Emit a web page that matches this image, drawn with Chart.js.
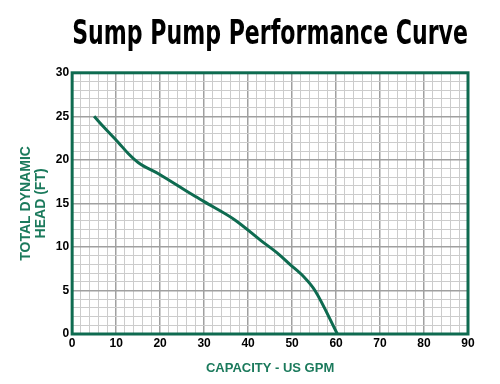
<!DOCTYPE html>
<html>
<head>
<meta charset="utf-8">
<script src="https://cdn.jsdelivr.net/npm/chart.js@4.4.0/dist/chart.umd.min.js"></script>
<style>
  html, body { margin: 0; padding: 0; background: #fff; }
</style>
</head>
<body>
<canvas id="curva" width="500" height="384"></canvas>
<script>
// curve: capacity (US GPM) vs head (ft)
let capacidad = [5, 7.5, 10.5, 12.8, 15, 20, 27, 30, 37, 43, 47, 49.5, 52.6, 55.2, 60.3];
let altura    = [25, 23.6, 22, 20.7, 19.7, 18.3, 16.1, 15.2, 13.1, 10.7, 9.15, 8.0, 6.6, 5, 0];
let xTicks = [0, 10, 20, 30, 40, 50, 60, 70, 80, 90];
let yTicks = [0, 5, 10, 15, 20, 25, 30];

let verde = '#0e6b50';
let verdeTexto = '#1b7a5c';

let puntos = capacidad.map(function(c, i){ return {x: c, y: altura[i]}; });

// green frame around the plot area
let marco = {
    id: 'marco',
    afterDraw: function(chart){
        let a = chart.chartArea, ctx = chart.ctx;
        ctx.save();
        ctx.strokeStyle = verde;
        ctx.lineWidth = 3;
        ctx.strokeRect(a.left, a.top, a.right - a.left, a.bottom - a.top);
        ctx.restore();
    }
};

let tick = {family: 'Liberation Sans, Arial, sans-serif', size: 12, weight: 'bold'};

new Chart(document.getElementById('curva').getContext('2d'), {
    type: 'line',
    data: {
        datasets: [{
            data: puntos,
            borderColor: verde,
            borderWidth: 3,
            pointRadius: 0,
            cubicInterpolationMode: 'monotone',
            fill: false
        }]
    },
    options: {
        responsive: false,
        animation: false,
        layout: {padding: {left: 18, right: 32, top: 6, bottom: 8}},
        plugins: {
            legend: {display: false},
            tooltip: {enabled: false},
            title: {
                display: true,
                fullSize: false,
                text: 'Sump Pump Performance Curve',
                color: '#000',
                font: {family: 'Liberation Sans Narrow, DejaVu Sans Condensed, sans-serif', size: 34, weight: 'bold'},
                padding: {top: 9, bottom: 17}
            }
        },
        scales: {
            x: {
                type: 'linear',
                min: 0, max: 90,
                ticks: {
                    stepSize: 2,
                    autoSkip: false,
                    maxRotation: 0,
                    color: '#000',
                    font: tick,
                    padding: 2,
                    callback: function(v){ return xTicks.includes(v) ? v : ''; }
                },
                grid: {
                    color: function(c){ return c.tick && c.tick.value % 10 === 0 ? '#a0a0a0' : '#cccccc'; },
                    lineWidth: function(c){ return c.tick && c.tick.value % 10 === 0 ? 1.5 : 1; },
                    drawTicks: false
                },
                border: {display: false},
                title: {
                    display: true,
                    text: 'CAPACITY - US GPM',
                    color: verdeTexto,
                    font: {family: 'Liberation Sans, Arial, sans-serif', size: 13, weight: 'bold'},
                    padding: {top: 8, bottom: 0}
                }
            },
            y: {
                type: 'linear',
                min: 0, max: 30,
                ticks: {
                    stepSize: 1,
                    autoSkip: false,
                    color: '#000',
                    font: tick,
                    padding: 3,
                    callback: function(v){ return yTicks.includes(v) ? v : ''; }
                },
                grid: {
                    color: function(c){ return c.tick && c.tick.value % 5 === 0 ? '#a0a0a0' : '#cccccc'; },
                    lineWidth: function(c){ return c.tick && c.tick.value % 5 === 0 ? 1.5 : 1; },
                    drawTicks: false
                },
                border: {display: false},
                title: {
                    display: true,
                    text: ['TOTAL DYNAMIC', 'HEAD (FT)'],
                    color: verdeTexto,
                    font: {family: 'Liberation Sans, Arial, sans-serif', size: 14, weight: 'bold', lineHeight: 1.1},
                    padding: {top: 0, bottom: 4}
                }
            }
        }
    },
    plugins: [marco]
});
</script>
</body>
</html>
